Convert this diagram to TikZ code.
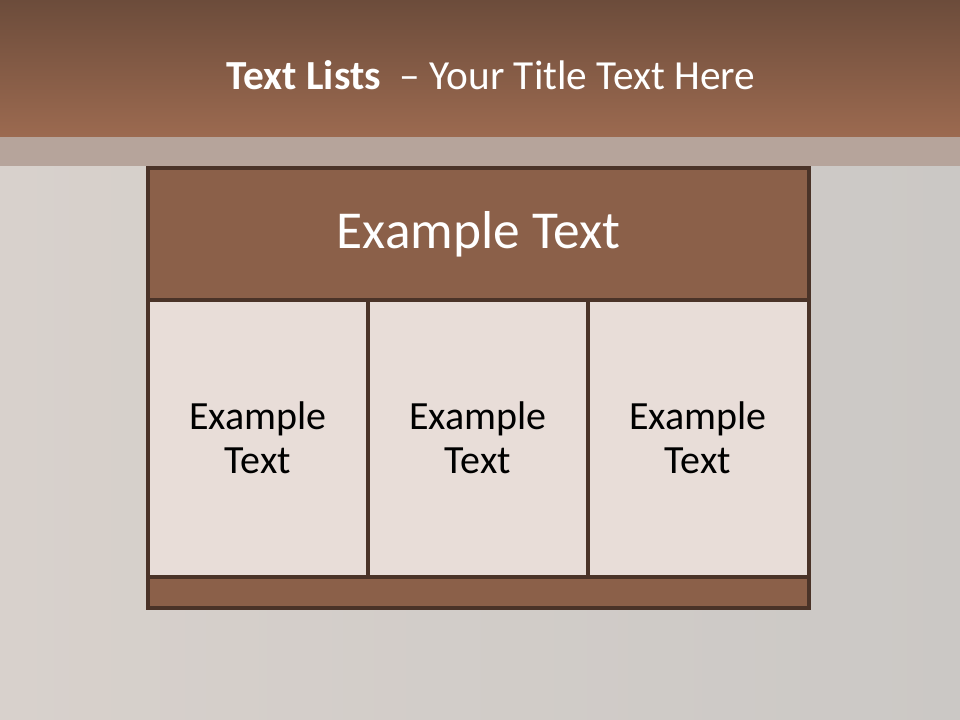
\documentclass[tikz,border=0pt]{standalone}
\usepackage{fontspec}
\setmainfont{Carlito}
\begin{document}
\begin{tikzpicture}[x=0.75pt,y=-0.75pt,
  frame/.style={draw=borderc,line width=3pt},
  headtxt/.style={text=white,font=\fontsize{40}{46}\selectfont},
  celltxt/.style={text=black,font=\fontsize{30}{33}\selectfont,align=center}]
\definecolor{bandtop}{HTML}{6C4C3B}
\definecolor{bandbot}{HTML}{9C6A50}
\definecolor{stripc}{HTML}{B6A49B}
\definecolor{bgleft}{HTML}{D8D1CC}
\definecolor{bgright}{HTML}{CBC8C5}
\definecolor{borderc}{HTML}{4A3328}
\definecolor{headc}{HTML}{8B6049}
\definecolor{cellc}{HTML}{E8DDD8}
\useasboundingbox (0,0) rectangle (960,720);
% background
\shade[left color=bgleft,right color=bgright] (0,137) rectangle (960,720);
\shade[top color=bandtop,bottom color=bandbot] (0,0) rectangle (960,137);
\fill[stripc] (0,137) rectangle (960,166);
% title
\node (title) at (491,75) {\color{white}\fontsize{31}{36}\selectfont\textbf{Text Lists}\ \ – Your Title Text Here};
% table
\fill[headc] (148,168) rectangle (809,300);
\fill[cellc] (148,300) rectangle (809,577);
\fill[headc] (148,577) rectangle (809,608);
\draw[frame] (148,168) rectangle (809,608);
\draw[frame] (148,300) -- (809,300);
\draw[frame] (148,577) -- (809,577);
\draw[frame] (368,300) -- (368,577);
\draw[frame] (588,300) -- (588,577);
% texts
\node[headtxt] (head) at (478.5,234) {Example Text};
\node[celltxt] (c1) at (258,438) {Example\\Text};
\node[celltxt] (c2) at (478,438) {Example\\Text};
\node[celltxt] (c3) at (698,438) {Example\\Text};
\end{tikzpicture}
\end{document}
